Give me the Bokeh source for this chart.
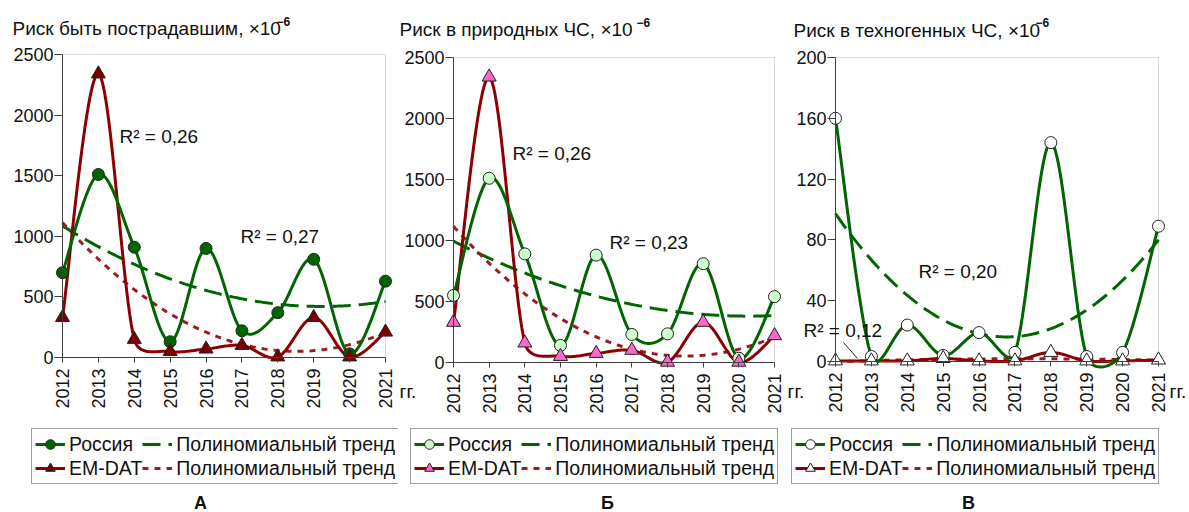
import math
import numpy as np
from bokeh.plotting import figure
from bokeh.layouts import row
from bokeh.models import Range1d, FixedTicker, Label, Legend, LegendItem, BoxAnnotation, Arrow
from bokeh.embed import file_html
from bokeh.resources import INLINE

# ---------------- data ----------------
years = [2012, 2013, 2014, 2015, 2016, 2017, 2018, 2019, 2020, 2021]

a_russia = [700, 1510, 910, 130, 900, 220, 370, 810, 30, 630]
a_emdat = [330, 2340, 150, 50, 70, 100, 5, 330, 5, 210]

b_russia = [550, 1510, 890, 140, 880, 230, 235, 810, 35, 540]
b_emdat = [330, 2340, 160, 50, 75, 100, 3, 330, 3, 220]

c_russia = [160, 3.3, 24, 4, 19, 6, 144, 3.3, 6, 89]
c_emdat = [0.4, 0.4, 0.4, 2, 0.4, 0.4, 6, 0.4, 0.4, 1]

ab_ticks = [0, 500, 1000, 1500, 2000, 2500]
c_ticks = [0, 40, 80, 120, 160, 200]

titles = ["Риск быть пострадавшим, ×10", "Риск в природных ЧС, ×10", "Риск в техногенных ЧС, ×10"]
title_sup = "−6"
r2_texts = [["R² = 0,26", "R² = 0,27"], ["R² = 0,26", "R² = 0,23"], ["R² = 0,20", "R² = 0,12"]]
legend_labels = ["Россия", "Полиномиальный тренд", "EM-DAT", "Полиномиальный тренд"]
panel_letters = ["А", "Б", "В"]
year_unit = "гг."

# ---------------- styling / geometry ----------------
FONT = "Liberation Sans"
H = 512
GREEN = "#006400"
RED = "#8B0000"
TREND_RED = "#9B1C1C"
AXIS = "#404040"
TXT = "#111111"


def excel_smooth(xs, ys, kx, ky, n=24):
    P = np.column_stack([np.asarray(xs, float) * kx, np.asarray(ys, float) * ky])
    N = len(P)
    out = [P[0]]
    for i in range(N - 1):
        p0 = P[i - 1] if i > 0 else P[i]
        p1 = P[i]
        p2 = P[i + 1]
        p3 = P[i + 2] if i + 2 < N else P[i + 1]
        d12 = np.linalg.norm(p2 - p1)
        d02 = np.linalg.norm(p2 - p0)
        d13 = np.linalg.norm(p3 - p1)
        f = 1 / 6
        g = 1 / 6
        if d02 > 0 and d02 / 6 >= d12 / 2:
            f = d12 / d02 / 2
        if d13 > 0 and d13 / 6 >= d12 / 2:
            g = d12 / d13 / 2
        c1 = p1 + (p2 - p0) * f
        c2 = p2 - (p3 - p1) * g
        t = np.linspace(0, 1, n + 1)[1:, None]
        pts = (1 - t) ** 3 * p1 + 3 * (1 - t) ** 2 * t * c1 + 3 * (1 - t) * t ** 2 * c2 + t ** 3 * p2
        out.extend(pts)
    out = np.array(out)
    return out[:, 0] / kx, out[:, 1] / ky


def make_panel(g, russia, emdat, yticks, r_fill, e_fill, title, r2, r2pos,
               letter, letter_x, units, leader=None):
    L, R, T, B = g["L"], g["R"], g["T"], g["B"]
    FL, W = g["FL"], g["W"]
    ymax = yticks[-1]
    kx = (R - L) / 9.0
    ky = (B - T) / float(ymax)

    def X(px):
        return 2012 + (px - L) / kx

    def Y(py):
        return (B - py) / ky

    fl, fr, ft, fb = FL, FL + W, 0, H
    p = figure(width=W, height=H,
               x_range=Range1d(X(fl), X(fr)), y_range=Range1d(Y(fb), Y(ft)),
               min_border_left=0, min_border_right=0,
               min_border_top=0, min_border_bottom=0,
               output_backend="svg", toolbar_location=None)
    p.xgrid.visible = False
    p.ygrid.visible = False
    p.outline_line_color = None
    p.background_fill_color = "white"
    p.border_fill_color = "white"

    xa = p.xaxis[0]
    xa.ticker = FixedTicker(ticks=years)
    xa.fixed_location = yticks[0]
    xa.bounds = (years[0], years[-1])
    xa.major_label_orientation = math.pi / 2
    xa.major_label_text_font = FONT
    xa.major_label_text_font_size = "18px"
    xa.major_label_text_color = TXT
    xa.major_tick_out = 5
    xa.major_tick_in = 0
    xa.minor_tick_out = 0
    xa.minor_tick_in = 0
    xa.major_label_standoff = 6
    xa.axis_line_color = AXIS
    xa.major_tick_line_color = AXIS

    ya = p.yaxis[0]
    ya.ticker = FixedTicker(ticks=yticks)
    ya.fixed_location = years[0]
    ya.bounds = (yticks[0], ymax)
    ya.major_label_text_font = FONT
    ya.major_label_text_font_size = "18px"
    ya.major_label_text_color = TXT
    ya.major_tick_out = 8
    ya.major_tick_in = 0
    ya.minor_tick_out = 0
    ya.minor_tick_in = 0
    ya.major_label_standoff = 1
    ya.axis_line_color = AXIS
    ya.major_tick_line_color = AXIS

    p.add_layout(BoxAnnotation(left=years[0], right=years[-1], bottom=yticks[0], top=ymax,
                               fill_color=None, line_color="#808080", line_width=1,
                               level="underlay"))

    # trends (polynomial, degree 2)
    t = np.array(years, float) - 2012
    xt = np.linspace(0, 9, 150)
    gt = np.polyval(np.polyfit(t, russia, 2), xt)
    rt = np.polyval(np.polyfit(t, emdat, 2), xt)
    g_tr = p.line(xt + 2012, gt, line_color=GREEN, line_width=3, line_dash="18 8")
    r_tr = p.line(xt + 2012, rt, line_color=TREND_RED, line_width=3, line_dash="6 6")

    rx, ry = excel_smooth(years, emdat, kx, ky)
    gx, gy = excel_smooth(years, russia, kx, ky)
    r_ln = p.line(rx, ry, line_color=RED, line_width=3)
    g_ln = p.line(gx, gy, line_color=GREEN, line_width=3)
    g_sc = p.scatter(years, russia, marker="circle", size=12, fill_color=r_fill,
                     line_color="#222222", line_width=1)
    r_sc = p.scatter(years, emdat, marker="triangle", size=14, fill_color=e_fill,
                     line_color="#222222", line_width=1)

    items = [LegendItem(label=legend_labels[0], renderers=[g_ln, g_sc]),
             LegendItem(label=legend_labels[1], renderers=[g_tr]),
             LegendItem(label=legend_labels[2], renderers=[r_ln, r_sc]),
             LegendItem(label=legend_labels[3], renderers=[r_tr])]
    lbx, lby = g["leg"]
    leg = Legend(items=items, location=(lbx - fl, fb - lby),
                 orientation="horizontal", ncols=2,
                 label_text_font=FONT, label_text_font_size="19.5px",
                 label_text_color=TXT,
                 glyph_width=30, glyph_height=24, label_height=22,
                 label_standoff=4, spacing=0, padding=3, margin=0,
                 border_line_color=AXIS, border_line_width=1,
                 background_fill_color="white", background_fill_alpha=1.0)
    p.add_layout(leg)

    # title with superscript
    p.add_layout(Label(x=X(g["title"][0]), y=Y(g["title"][1]), text=title,
                       text_font=FONT, text_font_size="19px", text_color=TXT,
                       text_baseline="middle", text_align="left"))
    p.add_layout(Label(x=X(g["sup"][0]), y=Y(g["sup"][1]), text=title_sup,
                       text_font=FONT, text_font_size="12px", text_font_style="bold",
                       text_color=TXT, text_baseline="middle", text_align="left"))

    for txt, (px, py) in zip(r2, r2pos):
        p.add_layout(Label(x=X(px), y=Y(py), text=txt, text_font=FONT,
                           text_font_size="19px", text_color=TXT,
                           text_baseline="middle", text_align="left"))
    if leader is not None:
        (x0, y0), (x1, y1) = leader
        p.add_layout(Arrow(end=None, x_start=X(x0), y_start=Y(y0), x_end=X(x1), y_end=Y(y1),
                           line_color="#222222", line_width=1))

    for ux in units:
        p.add_layout(Label(x=X(ux), y=Y(391), text=year_unit, text_font=FONT,
                           text_font_size="19px", text_color=TXT,
                           text_baseline="middle", text_align="left"))

    p.add_layout(Label(x=X(letter_x), y=Y(502), text=letter, text_font=FONT,
                       text_font_size="18px", text_font_style="bold", text_color=TXT,
                       text_baseline="middle", text_align="center"))
    return p


GA = dict(L=62, R=385, T=54, B=357, FL=0, W=398, leg=(31, 484),
          title=(12, 28), sup=(276, 21))
GB = dict(L=453, R=774, T=57, B=362, FL=398, W=388, leg=(410, 484),
          title=(399, 29), sup=(636, 22))
GC = dict(L=835, R=1158, T=57, B=361, FL=786, W=403, leg=(791, 484),
          title=(793, 30), sup=(1035, 22))

pA = make_panel(GA, a_russia, a_emdat, ab_ticks, GREEN, "#7A0000", titles[0],
                r2_texts[0], [(119, 136), (240, 236)], panel_letters[0], 200, [])
pB = make_panel(GB, b_russia, b_emdat, ab_ticks, "#CCFFCC", "#FF66CC", titles[1],
                r2_texts[1], [(512, 153), (609, 242)], panel_letters[1], 607, [399])
pC = make_panel(GC, c_russia, c_emdat, c_ticks, "white", "white", titles[2],
                r2_texts[2], [(918, 271), (803, 330)], panel_letters[2], 968, [787, 1169],
                leader=((843, 342), (857, 358)))

layout = row(pA, pB, pC)
open("out.html", "w").write(file_html(layout, INLINE))
